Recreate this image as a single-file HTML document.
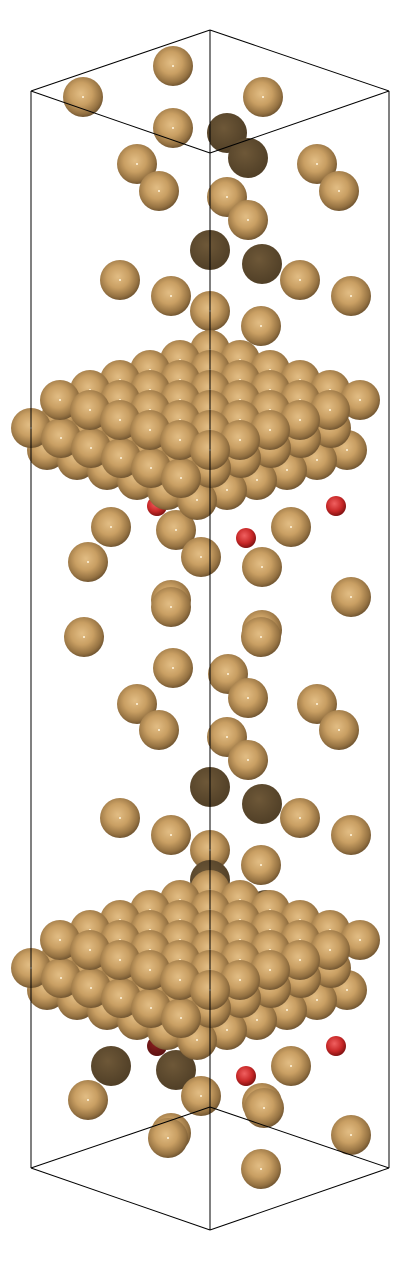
<!DOCTYPE html>
<html><head><meta charset="utf-8"><style>
html,body{margin:0;padding:0;background:#fff;width:400px;height:1261px;overflow:hidden}
</style></head><body>
<svg id="scene" width="400" height="1261" viewBox="0 0 400 1261" xmlns="http://www.w3.org/2000/svg">
<defs>
<radialGradient id="gold" cx="45%" cy="42%" r="62%">
<stop offset="0" stop-color="#e2bd84"/><stop offset="0.45" stop-color="#c99f63"/><stop offset="0.8" stop-color="#957242"/><stop offset="1" stop-color="#634a2a"/>
</radialGradient>
<radialGradient id="dark" cx="42%" cy="38%" r="65%">
<stop offset="0" stop-color="#6e5838"/><stop offset="1" stop-color="#4f3e26"/>
</radialGradient>
<radialGradient id="red" cx="42%" cy="38%" r="65%">
<stop offset="0" stop-color="#f06060"/><stop offset="0.6" stop-color="#c82828"/><stop offset="1" stop-color="#7a1010"/>
</radialGradient>
<radialGradient id="dred" cx="42%" cy="38%" r="65%">
<stop offset="0" stop-color="#8a2020"/><stop offset="1" stop-color="#5a1010"/>
</radialGradient>
</defs>
<g id="atoms"></g>
<g id="box" stroke="#000" stroke-width="1" fill="none"></g>
</svg>
<script>
const atomX = [173,83,263,173,227,248,137,317,159,339,227,248,210,262,120,300,171,351,210,261,
  111,291,176,201,88,262,171,171,351,261,262,84,173,228,137,317,159,339,248,227,248,210,262,120,300,171,351,210,261,210,266,
  111,291,176,201,88,262,168,171,351,261,264];
const atomY = [66,97,97,128,133,158,164,164,191,191,197,220,250,264,280,280,296,296,311,326,
  527,527,530,557,562,567,600,607,597,637,630,637,668,674,704,704,730,730,698,737,760,787,804,818,818,835,835,850,865,880,910,
  1066,1066,1070,1096,1100,1103,1138,1133,1135,1169,1108];
const atomT = ['g','g','g','g','d','d','g','g','g','g','g','g','d','d','g','g','g','g','g','g',
  'g','g','g','g','g','g','g','g','g','g','g','g','g','g','g','g','g','g','g','g','g','d','d','g','g','g','g','g','g','d','d',
  'd','g','d','g','g','g','g','g','g','g','g'];
const redX = [157,336,246,157,336,246];
const redY = [506,506,538,1046,1046,1076];
const redT = ['r','r','r','k','r','r'];
const layerOX = [47,31,60];
const layerOY = [450,428,400];
const slabDY = [0,540];

const NS='http://www.w3.org/2000/svg';
const G=document.getElementById('atoms');
function sphere(x,y,r,t){
  const c=document.createElementNS(NS,'circle');
  c.setAttribute('cx',x);c.setAttribute('cy',y);c.setAttribute('r',r);
  c.setAttribute('fill','url(#'+({g:'gold',d:'dark',r:'red',k:'dred'}[t])+')');
  
  
  G.appendChild(c);
  if(t==='g'){const h=document.createElementNS(NS,'circle');h.setAttribute('cx',x);h.setAttribute('cy',y);h.setAttribute('r',1);h.setAttribute('fill','#fff6e0');
  
  
  G.appendChild(h);}
}
const items=[];
for(let i=0;i<atomX.length;i++) items.push([atomX[i],atomY[i],20,atomT[i]]);
for(let i=0;i<redX.length;i++) items.push([redX[i],redY[i],10,redT[i]]);
items.sort((a,b)=>a[1]-b[1]);
items.forEach(a=>sphere(...a));
slabDY.forEach(dy=>{
  for(let L=0;L<layerOX.length;L++){
    const pts=[];
    for(let i=0;i<6;i++)for(let j=0;j<6;j++){
      pts.push([layerOX[L]+30*i+30*j, layerOY[L]+dy+10*i-10*j]);
    }
    pts.sort((a,b)=>a[1]-b[1]);
    pts.forEach(p=>sphere(p[0],p[1],20,'g'));
  }
});
const B=document.getElementById('box');
const lines=[[31,91,210,30],[210,30,389,91],[389,91,210,153],[210,153,31,91],
[31,1168,210,1107],[210,1107,389,1168],[389,1168,210,1230],[210,1230,31,1168],
[31,91,31,1168],[389,91,389,1168],[210,30,210,1107],[210,153,210,1230]];
lines.forEach(l=>{const e=document.createElementNS(NS,'line');
e.setAttribute('x1',l[0]);e.setAttribute('y1',l[1]);e.setAttribute('x2',l[2]);e.setAttribute('y2',l[3]);


B.appendChild(e);});
</script>
</body></html>
